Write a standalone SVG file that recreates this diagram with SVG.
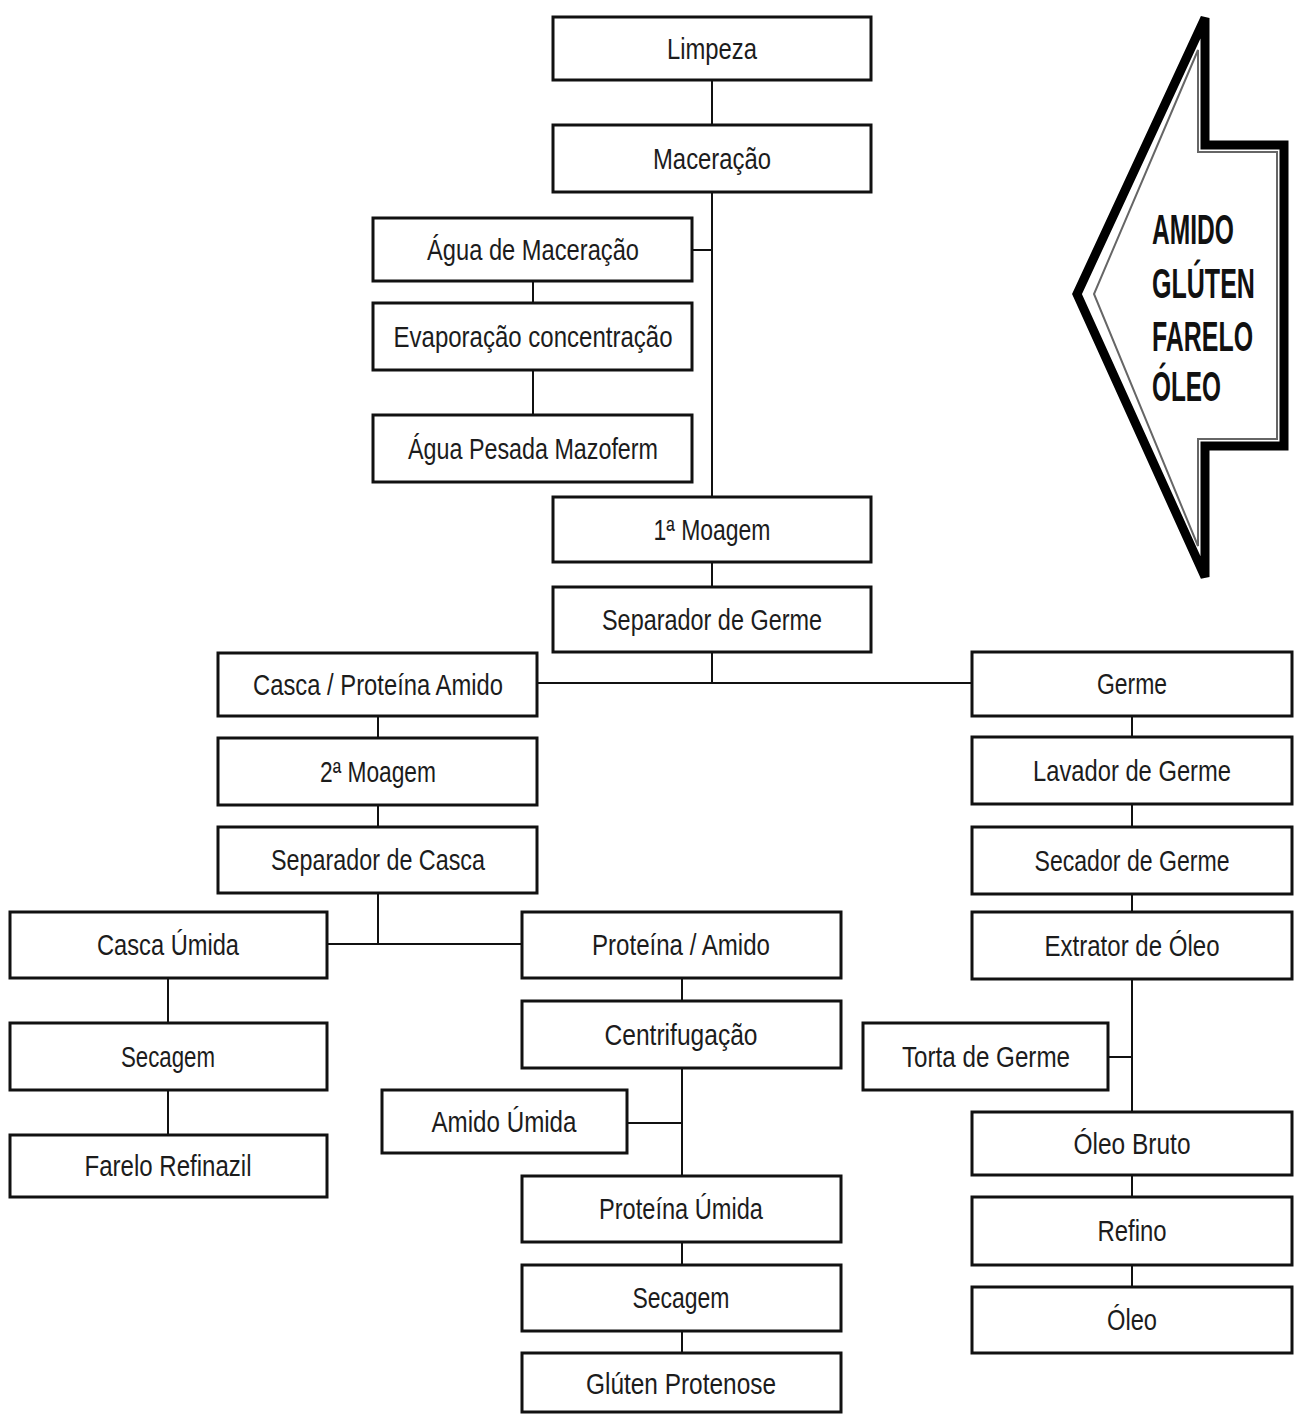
<svg xmlns="http://www.w3.org/2000/svg" width="1296" height="1414" viewBox="0 0 1296 1414">
<style>
.box{fill:#fff;stroke:#111;stroke-width:3}
.lbl{font-family:"Liberation Sans Narrow","Arial Narrow","Liberation Sans",sans-serif;font-size:29px;fill:#1c1c1c;text-anchor:middle}
.con{stroke:#111;stroke-width:2;fill:none}
.big{font-family:"Liberation Sans",Arial,sans-serif;font-size:43px;font-weight:bold;fill:#111}
</style>
<rect width="1296" height="1414" fill="#fff"/>
<g id="connectors">
<line class="con" x1="712" y1="80" x2="712" y2="125"/>
<line class="con" x1="712" y1="192" x2="712" y2="497"/>
<line class="con" x1="692" y1="250" x2="712" y2="250"/>
<line class="con" x1="533" y1="281" x2="533" y2="303"/>
<line class="con" x1="533" y1="370" x2="533" y2="415"/>
<line class="con" x1="712" y1="562" x2="712" y2="587"/>
<line class="con" x1="712" y1="652" x2="712" y2="683"/>
<line class="con" x1="537" y1="683" x2="972" y2="683"/>
<line class="con" x1="378" y1="716" x2="378" y2="738"/>
<line class="con" x1="378" y1="805" x2="378" y2="827"/>
<line class="con" x1="378" y1="893" x2="378" y2="944"/>
<line class="con" x1="327" y1="944" x2="522" y2="944"/>
<line class="con" x1="168" y1="978" x2="168" y2="1023"/>
<line class="con" x1="168" y1="1090" x2="168" y2="1135"/>
<line class="con" x1="682" y1="978" x2="682" y2="1001"/>
<line class="con" x1="682" y1="1068" x2="682" y2="1176"/>
<line class="con" x1="627" y1="1123" x2="682" y2="1123"/>
<line class="con" x1="682" y1="1242" x2="682" y2="1265"/>
<line class="con" x1="682" y1="1331" x2="682" y2="1353"/>
<line class="con" x1="1132" y1="716" x2="1132" y2="737"/>
<line class="con" x1="1132" y1="804" x2="1132" y2="827"/>
<line class="con" x1="1132" y1="894" x2="1132" y2="912"/>
<line class="con" x1="1132" y1="979" x2="1132" y2="1112"/>
<line class="con" x1="1108" y1="1057" x2="1132" y2="1057"/>
<line class="con" x1="1132" y1="1175" x2="1132" y2="1197"/>
<line class="con" x1="1132" y1="1265" x2="1132" y2="1287"/>
</g>
<g id="n-limpeza"><rect class="box" x="553" y="17" width="318" height="63"/><text class="lbl" x="712" y="59" textLength="90" lengthAdjust="spacingAndGlyphs">Limpeza</text></g>
<g id="n-maceracao"><rect class="box" x="553" y="125" width="318" height="67"/><text class="lbl" x="712" y="169" textLength="118" lengthAdjust="spacingAndGlyphs">Maceração</text></g>
<g id="n-agua-maceracao"><rect class="box" x="373" y="218" width="319" height="63"/><text class="lbl" x="533" y="260" textLength="212" lengthAdjust="spacingAndGlyphs">Água de Maceração</text></g>
<g id="n-evaporacao"><rect class="box" x="373" y="303" width="319" height="67"/><text class="lbl" x="533" y="347" textLength="279" lengthAdjust="spacingAndGlyphs">Evaporação concentração</text></g>
<g id="n-agua-pesada"><rect class="box" x="373" y="415" width="319" height="67"/><text class="lbl" x="533" y="459" textLength="250" lengthAdjust="spacingAndGlyphs">Água Pesada Mazoferm</text></g>
<g id="n-moagem1"><rect class="box" x="553" y="497" width="318" height="65"/><text class="lbl" x="712" y="540" textLength="117" lengthAdjust="spacingAndGlyphs">1ª Moagem</text></g>
<g id="n-sep-germe"><rect class="box" x="553" y="587" width="318" height="65"/><text class="lbl" x="712" y="630" textLength="220" lengthAdjust="spacingAndGlyphs">Separador de Germe</text></g>
<g id="n-casca-proteina"><rect class="box" x="218" y="653" width="319" height="63"/><text class="lbl" x="378" y="695" textLength="250" lengthAdjust="spacingAndGlyphs">Casca / Proteína Amido</text></g>
<g id="n-moagem2"><rect class="box" x="218" y="738" width="319" height="67"/><text class="lbl" x="378" y="782" textLength="116" lengthAdjust="spacingAndGlyphs">2ª Moagem</text></g>
<g id="n-sep-casca"><rect class="box" x="218" y="827" width="319" height="66"/><text class="lbl" x="378" y="870" textLength="214" lengthAdjust="spacingAndGlyphs">Separador de Casca</text></g>
<g id="n-casca-umida"><rect class="box" x="10" y="912" width="317" height="66"/><text class="lbl" x="168" y="955" textLength="142" lengthAdjust="spacingAndGlyphs">Casca Úmida</text></g>
<g id="n-secagem-l"><rect class="box" x="10" y="1023" width="317" height="67"/><text class="lbl" x="168" y="1067" textLength="94" lengthAdjust="spacingAndGlyphs">Secagem</text></g>
<g id="n-farelo"><rect class="box" x="10" y="1135" width="317" height="62"/><text class="lbl" x="168" y="1176" textLength="167" lengthAdjust="spacingAndGlyphs">Farelo Refinazil</text></g>
<g id="n-proteina-amido"><rect class="box" x="522" y="912" width="319" height="66"/><text class="lbl" x="681" y="955" textLength="178" lengthAdjust="spacingAndGlyphs">Proteína / Amido</text></g>
<g id="n-centrifugacao"><rect class="box" x="522" y="1001" width="319" height="67"/><text class="lbl" x="681" y="1045" textLength="153" lengthAdjust="spacingAndGlyphs">Centrifugação</text></g>
<g id="n-amido-umida"><rect class="box" x="382" y="1090" width="245" height="63"/><text class="lbl" x="504" y="1132" textLength="145" lengthAdjust="spacingAndGlyphs">Amido Úmida</text></g>
<g id="n-proteina-umida"><rect class="box" x="522" y="1176" width="319" height="66"/><text class="lbl" x="681" y="1219" textLength="164" lengthAdjust="spacingAndGlyphs">Proteína Úmida</text></g>
<g id="n-secagem-m"><rect class="box" x="522" y="1265" width="319" height="66"/><text class="lbl" x="681" y="1308" textLength="97" lengthAdjust="spacingAndGlyphs">Secagem</text></g>
<g id="n-gluten"><rect class="box" x="522" y="1353" width="319" height="59"/><text class="lbl" x="681" y="1394" textLength="190" lengthAdjust="spacingAndGlyphs">Glúten Protenose</text></g>
<g id="n-germe"><rect class="box" x="972" y="652" width="320" height="64"/><text class="lbl" x="1132" y="694" textLength="70" lengthAdjust="spacingAndGlyphs">Germe</text></g>
<g id="n-lavador"><rect class="box" x="972" y="737" width="320" height="67"/><text class="lbl" x="1132" y="781" textLength="198" lengthAdjust="spacingAndGlyphs">Lavador de Germe</text></g>
<g id="n-secador"><rect class="box" x="972" y="827" width="320" height="67"/><text class="lbl" x="1132" y="871" textLength="195" lengthAdjust="spacingAndGlyphs">Secador de Germe</text></g>
<g id="n-extrator"><rect class="box" x="972" y="912" width="320" height="67"/><text class="lbl" x="1132" y="956" textLength="175" lengthAdjust="spacingAndGlyphs">Extrator de Óleo</text></g>
<g id="n-torta"><rect class="box" x="863" y="1023" width="245" height="67"/><text class="lbl" x="986" y="1067" textLength="168" lengthAdjust="spacingAndGlyphs">Torta de Germe</text></g>
<g id="n-oleo-bruto"><rect class="box" x="972" y="1112" width="320" height="63"/><text class="lbl" x="1132" y="1154" textLength="117" lengthAdjust="spacingAndGlyphs">Óleo Bruto</text></g>
<g id="n-refino"><rect class="box" x="972" y="1197" width="320" height="68"/><text class="lbl" x="1132" y="1241" textLength="69" lengthAdjust="spacingAndGlyphs">Refino</text></g>
<g id="n-oleo"><rect class="box" x="972" y="1287" width="320" height="66"/><text class="lbl" x="1132" y="1330" textLength="50" lengthAdjust="spacingAndGlyphs">Óleo</text></g>
<g id="big-arrow">
<polygon points="1205,18 1205,145 1284,145 1284,446 1205,446 1205,577 1077,294" fill="#fff" stroke="#000" stroke-width="9" stroke-linejoin="miter"/>
<polygon points="1198,50 1198,152 1277,152 1277,439 1198,439 1198,546 1094,294" fill="none" stroke="#666" stroke-width="2"/>
<text class="big" transform="translate(1152,244) scale(0.575,1)" textLength="142.6" lengthAdjust="spacingAndGlyphs">AMIDO</text>
<text class="big" transform="translate(1152,298) scale(0.575,1)" textLength="179" lengthAdjust="spacingAndGlyphs">GLÚTEN</text>
<text class="big" transform="translate(1152,351) scale(0.575,1)" textLength="175.7" lengthAdjust="spacingAndGlyphs">FARELO</text>
<text class="big" transform="translate(1152,401) scale(0.575,1)" textLength="120" lengthAdjust="spacingAndGlyphs">ÓLEO</text>
</g>
</svg>
